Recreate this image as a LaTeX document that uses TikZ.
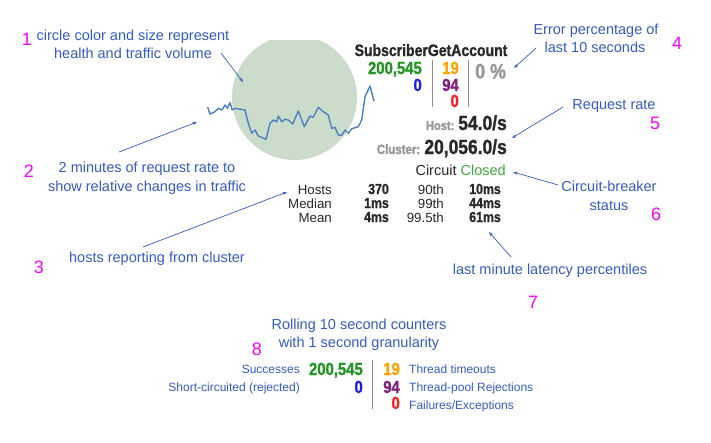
\documentclass[tikz,border=0pt]{standalone}
\usepackage{fontspec}
\setmainfont{Liberation Sans}
\newfontfamily\condb[FakeStretch=0.85,FakeBold=1.2]{Liberation Sans Bold}
\usetikzlibrary{arrows.meta}
\definecolor{annot}{RGB}{52,92,196}
\definecolor{mag}{RGB}{255,0,255}
\definecolor{spark}{RGB}{74,128,193}
\definecolor{circ}{RGB}{204,220,203}
\definecolor{cgreen}{RGB}{34,150,34}
\definecolor{closedg}{RGB}{60,172,60}
\definecolor{cblue}{RGB}{30,30,230}
\definecolor{corange}{RGB}{255,165,0}
\definecolor{cpurple}{RGB}{130,30,130}
\definecolor{cred}{RGB}{255,30,30}
\definecolor{cgray}{RGB}{150,150,150}
\definecolor{dark}{RGB}{40,40,40}
\definecolor{sepc}{RGB}{140,140,140}
\tikzset{
  ann/.style={text=annot, font=\fontsize{14.5}{18}\selectfont, inner sep=0pt, anchor=base},
  numlbl/.style={text=mag, font=\fontsize{18}{20}\selectfont, inner sep=0pt, anchor=base},
  arr/.style={draw=annot, line width=0.7pt, -{Stealth[length=4.5pt,width=3.2pt]}},
  cnt/.style={font=\condb\fontsize{17.5}{20}\selectfont, inner sep=0pt, anchor=base east},
  lat/.style={font=\fontsize{13.3}{15}\selectfont, text=dark, inner sep=0pt, anchor=base east},
  latb/.style={font=\condb\fontsize{14.5}{15}\selectfont, text=dark, inner sep=0pt, anchor=base east},
  leg/.style={text=annot, font=\fontsize{12}{14}\selectfont, inner sep=0pt},
  sepline/.style={draw=sepc, line width=0.9pt},
}
\begin{document}
\begin{tikzpicture}[x=1pt,y=-1pt]
\useasboundingbox (0,0) rectangle (711,442);
\fill[white] (0,0) rectangle (711,442);

% circle
\begin{scope}
  \clip (200,40) rectangle (420,200);
  \fill[circ] (294.5,97.5) circle[radius=62.5pt];
\end{scope}

% sparkline
\draw[spark, line width=1.4pt, line join=round] plot coordinates {
(207.7,107.3) (210,114) (215,111.7) (218.3,108.3) (221.7,110) (225,105)
(227.3,108.3) (230,102.7) (232.3,110) (235,108.3) (245,110) (248.3,123.3)
(251.7,133.3) (255,130) (258.3,136) (266,139.3) (270,123.3) (273.3,120)
(276.7,121.7) (278.3,116) (281.7,121.7) (285,119.3) (288.3,120) (292.7,124)
(298.3,111) (304.3,126.7) (310,116) (313.3,117.3) (318.3,107.3) (323.3,111.7)
(328.3,115) (331.7,128.3) (335,127.3) (338.3,135) (341.7,135.3) (345,130)
(348.3,133.3) (351.7,128.7) (358.3,126.7) (361.7,120) (365,96.7) (370,86) (374,101)};

% widget title and counters
\node[font=\condb\fontsize{16.5}{18}\selectfont, text=dark, inner sep=0pt, anchor=base] (title) at (431,56) {SubscriberGetAccount};
\node[cnt, text=cgreen] (tsucc) at (422,74) {200,545};
\node[cnt, text=cblue] (tshort) at (422,91) {0};
\node[cnt, text=corange] (ttime) at (459,74) {19};
\node[cnt, text=cpurple] (tpool) at (459,91) {94};
\node[cnt, text=cred] (tfail) at (459,107) {0};
\coordinate (s1a) at (432,60); \coordinate (s1b) at (432,107);
\coordinate (s2a) at (468,60); \coordinate (s2b) at (468,107);
\draw[sepline] (s1a) -- (s1b);
\draw[sepline] (s2a) -- (s2b);
\node[font=\condb\fontsize{21}{22}\selectfont, text=cgray, inner sep=0pt, anchor=base west] (errpct) at (475,78.5) {0 \%};

\node[inner sep=0pt, anchor=base east] (hostrate) at (507,130)
  {{\condb\fontsize{13}{14}\selectfont\color{cgray}Host: }{\condb\fontsize{20.5}{22}\selectfont\color{dark}54.0/s}};
\node[inner sep=0pt, anchor=base east] (clusterrate) at (507,154)
  {{\condb\fontsize{13.5}{14}\selectfont\color{cgray}Cluster: }{\condb\fontsize{20.5}{22}\selectfont\color{dark}20,056.0/s}};
\node[inner sep=0pt, anchor=base east, font=\fontsize{14.5}{16}\selectfont] (circuit) at (506,175)
  {{\color{dark}Circuit} {\color{closedg}Closed}};

% latency table
\node[lat] (lh) at (332,194) {Hosts};
\node[lat] (lmed) at (332,208) {Median};
\node[lat] (lmean) at (332,222) {Mean};
\node[latb] (vh) at (389,194) {370};
\node[latb] (vmed) at (389,208) {1ms};
\node[latb] (vmean) at (389,222) {4ms};
\node[lat] (p90) at (444,194) {90th};
\node[lat] (p99) at (444,208) {99th};
\node[lat] (p995) at (444,222) {99.5th};
\node[latb] (v90) at (501,194) {10ms};
\node[latb] (v99) at (501,208) {44ms};
\node[latb] (v995) at (501,222) {61ms};

% annotations
\node[ann] (t1a) at (133,40) {circle color and size represent};
\node[ann] (t1b) at (133,58) {health and traffic volume};
\node[ann] (t2a) at (147,172) {2 minutes of request rate to};
\node[ann] (t2b) at (147,191) {show relative changes in traffic};
\node[ann] (t3) at (157,262) {hosts reporting from cluster};
\node[ann] (t4a) at (596,34) {Error percentage of};
\node[ann] (t4b) at (595,52) {last 10 seconds};
\node[ann] (t5) at (614,109) {Request rate};
\node[ann] (t6a) at (609,191) {Circuit-breaker};
\node[ann] (t6b) at (609,210) {status};
\node[ann] (t7) at (550,274) {last minute latency percentiles};
\node[ann] (t8a) at (359,329) {Rolling 10 second counters};
\node[ann] (t8b) at (359,347) {with 1 second granularity};

% magenta numbers
\node[numlbl] (n1) at (27,45.5) {1};
\node[numlbl] (n2) at (29,177) {2};
\node[numlbl] (n3) at (39,273) {3};
\node[numlbl] (n4) at (677,49) {4};
\node[numlbl] (n5) at (655,129) {5};
\node[numlbl] (n6) at (656,220) {6};
\node[numlbl] (n7) at (533,308) {7};
\node[numlbl] (n8) at (257,355) {8};

% arrows
\coordinate (a1s) at (221,53);  \coordinate (a1e) at (243,82);
\coordinate (a2s) at (119,152); \coordinate (a2e) at (197,122);
\coordinate (a3s) at (143,247); \coordinate (a3e) at (287,192);
\coordinate (a4s) at (536,48);  \coordinate (a4e) at (514,68);
\coordinate (a5s) at (563,107); \coordinate (a5e) at (512,138);
\coordinate (a6s) at (558,185); \coordinate (a6e) at (513,172);
\coordinate (a7s) at (511,257); \coordinate (a7e) at (489,232);
\draw[arr] (a1s) -- (a1e);
\draw[arr] (a2s) -- (a2e);
\draw[arr] (a3s) -- (a3e);
\draw[arr] (a4s) -- (a4e);
\draw[arr] (a5s) -- (a5e);
\draw[arr] (a6s) -- (a6e);
\draw[arr] (a7s) -- (a7e);

% legend
\node[leg, anchor=base east] (lsucc) at (300,373) {Successes};
\node[leg, anchor=base east] (lshort) at (300,391) {Short-circuited (rejected)};
\node[cnt, text=cgreen] (gsucc) at (363,375) {200,545};
\node[cnt, text=cblue] (gshort) at (363,393) {0};
\coordinate (s3a) at (372,360); \coordinate (s3b) at (372,409);
\draw[sepline] (s3a) -- (s3b);
\node[cnt, text=corange] (gtime) at (400,375) {19};
\node[cnt, text=cpurple] (gpool) at (400,393) {94};
\node[cnt, text=cred] (gfail) at (400,409) {0};
\node[leg, anchor=base west] (ltime) at (409,373) {Thread timeouts};
\node[leg, anchor=base west] (lpool) at (409,391) {Thread-pool Rejections};
\node[leg, anchor=base west] (lfail) at (409,409) {Failures/Exceptions};
\end{tikzpicture}
\end{document}
